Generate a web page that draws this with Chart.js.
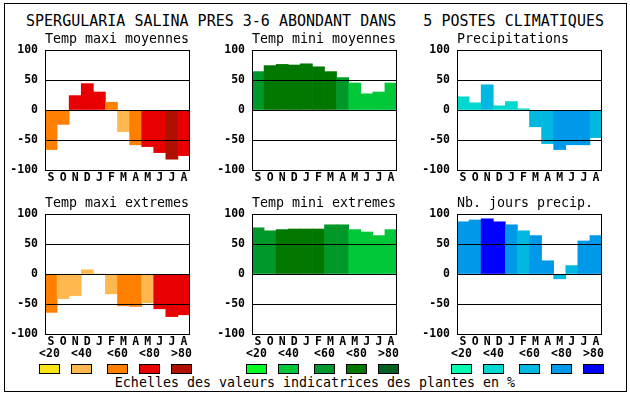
<!DOCTYPE html>
<html>
<head>
<meta charset="utf-8">
<script src="https://cdn.jsdelivr.net/npm/chart.js@4/dist/chart.umd.min.js"></script>
<style>
  html, body { margin: 0; padding: 0; background: #fff; }
  #wrap { position: relative; width: 630px; height: 394px; overflow: hidden; background: #fff; }
  #frame { position: absolute; left: 4px; top: 3px; width: 621px; height: 387px; border: 1px solid #000; box-sizing: content-box; }
  canvas { position: absolute; }
  .txt { position: absolute; font-family: "DejaVu Sans Mono", "Liberation Mono", monospace; color: #000; white-space: pre; line-height: 1; }
  .lbl { font-weight: bold; font-size: 11.5px; text-align: center; width: 30px; }
  .sw { position: absolute; width: 19px; height: 8px; border: 1px solid #000; }
</style>
</head>
<body>
<div id="wrap">
  <div id="frame"></div>
  <div class="txt" id="mainTitle" style="left:0;width:630px;text-align:center;top:14px;font-size:15px;"></div>
  <div class="txt" id="footer" style="left:0;width:630px;text-align:center;top:376px;font-size:13.3px;"></div>
</div>
<script>
// ---------- data ----------
const months = ['S','O','N','D','J','F','M','A','M','J','J','A'];
const yTicks = [-100, -50, 0, 50, 100];
const classLabels = ['<20', '<40', '<60', '<80', '>80'];

const mainTitle = 'SPERGULARIA SALINA PRES 3-6 ABONDANT DANS   5 POSTES CLIMATIQUES';
const footerText = 'Echelles des valeurs indicatrices des plantes en %';

const panelTitles = ['Temp maxi moyennes', 'Temp mini moyennes', 'Precipitations',
                     'Temp maxi extremes', 'Temp mini extremes', 'Nb. jours precip.'];

const tmaxMoy      = [-66, -24, 24, 44, 30, 13, -36, -58, -61, -71, -82, -76];
const tmaxMoyClass = [2, 2, 3, 3, 3, 2, 1, 2, 3, 3, 4, 3];

const tminMoy      = [64, 74, 76, 75, 77, 72, 64, 54, 45, 27, 30, 45];
const tminMoyClass = [2, 3, 3, 3, 3, 3, 3, 2, 1, 1, 1, 1];

const precip       = [22, 12, 42, 7, 14, 2, -28, -56, -66, -58, -58, -46];
const precipClass  = [1, 1, 2, 1, 1, 1, 2, 2, 3, 3, 3, 2];

const tmaxExt      = [-64, -41, -36, 7, 0, -33, -53, -54, -48, -58, -71, -68];
const tmaxExtClass = [2, 1, 1, 1, 1, 1, 2, 2, 1, 3, 3, 3];

const tminExt      = [77, 72, 74, 75, 75, 75, 82, 82, 74, 70, 64, 74];
const tminExtClass = [2, 2, 3, 3, 3, 3, 2, 2, 1, 1, 1, 1];

const nbJours      = [87, 90, 92, 87, 82, 72, 64, 22, -8, 14, 55, 64];
const nbJoursClass = [3, 3, 4, 4, 3, 2, 3, 3, 2, 2, 3, 3];

// ---------- styles ----------
const warmPalette  = ['#f8e418', '#ffb850', '#ff8000', '#e80000', '#b01000'];
const greenPalette = ['#00ff20', '#00c838', '#009828', '#007800', '#006020'];
const bluePalette  = ['#00ffb0', '#00d8d0', '#00b8e0', '#0098e8', '#0000ff'];

const MONO = '"DejaVu Sans Mono", "Liberation Mono", monospace';
const colLefts = [45, 252, 457];
const rowTops = [50, 214];
const plotW = 145, plotH = 120;
const AXW = 45, TOPPAD = 40, XH = 22, RPAD = 3;

const panels = [
  { values: tmaxMoy, cls: tmaxMoyClass, pal: warmPalette,  col: 0, row: 0, title: panelTitles[0] },
  { values: tminMoy, cls: tminMoyClass, pal: greenPalette, col: 1, row: 0, title: panelTitles[1] },
  { values: precip,  cls: precipClass,  pal: bluePalette,  col: 2, row: 0, title: panelTitles[2] },
  { values: tmaxExt, cls: tmaxExtClass, pal: warmPalette,  col: 0, row: 1, title: panelTitles[3] },
  { values: tminExt, cls: tminExtClass, pal: greenPalette, col: 1, row: 1, title: panelTitles[4] },
  { values: nbJours, cls: nbJoursClass, pal: bluePalette,  col: 2, row: 1, title: panelTitles[5] },
];

const panelDecor = {
  id: 'panelDecor',
  afterDraw(chart, args, opts) {
    const ctx = chart.ctx, a = chart.chartArea;
    ctx.save();
    ctx.strokeStyle = '#000';
    ctx.lineWidth = 1;
    ctx.strokeRect(Math.round(a.left) + 0.5, Math.round(a.top) + 0.5,
                   Math.round(a.right - a.left) - 1, Math.round(a.bottom - a.top));
    ctx.fillStyle = '#000';
    ctx.font = '13.3px ' + MONO;
    ctx.textAlign = 'left';
    ctx.textBaseline = 'alphabetic';
    ctx.fillText(opts.text, a.left, a.top - 7);
    ctx.restore();
  }
};

const wrap = document.getElementById('wrap');
document.getElementById('mainTitle').textContent = mainTitle;
document.getElementById('footer').textContent = footerText;

panels.forEach(p => {
  const cv = document.createElement('canvas');
  const left = colLefts[p.col] - AXW, top = rowTops[p.row] - TOPPAD;
  const w = AXW + plotW + RPAD, h = TOPPAD + plotH + XH;
  cv.width = w; cv.height = h;
  cv.style.left = left + 'px'; cv.style.top = top + 'px';
  cv.style.width = w + 'px'; cv.style.height = h + 'px';
  wrap.appendChild(cv);

  new Chart(cv, {
    type: 'bar',
    data: {
      labels: months,
      datasets: [{
        data: p.values,
        backgroundColor: p.cls.map(c => p.pal[c]),
        borderWidth: 0,
        barPercentage: 1,
        categoryPercentage: 1,
      }]
    },
    plugins: [panelDecor],
    options: {
      responsive: false,
      animation: false,
      devicePixelRatio: 1,
      layout: { padding: { top: TOPPAD, right: RPAD, left: 0, bottom: 0 } },
      plugins: {
        legend: { display: false },
        tooltip: { enabled: false },
        title: { display: false },
        panelDecor: { text: p.title }
      },
      scales: {
        x: {
          grid: { display: false, drawTicks: false },
          border: { display: false },
          ticks: { color: '#000', font: { family: MONO, size: 11.5, weight: 'bold' },
                   padding: 1, maxRotation: 0, autoSkip: false },
          afterFit(s) { s.height = XH; }
        },
        y: {
          min: -100, max: 100,
          afterBuildTicks(s) { s.ticks = yTicks.map(v => ({ value: v })); },
          grid: { color: '#000', lineWidth: 1, drawTicks: false, z: 1 },
          border: { display: false },
          ticks: { color: '#000', font: { family: MONO, size: 11.5, weight: 'bold' }, padding: 7 },
          afterFit(s) { s.width = AXW; }
        }
      }
    }
  });
});

// legends
const swOffsets = [-6, 26, 62, 94, 126];
const palettes = [warmPalette, greenPalette, bluePalette];
palettes.forEach((pal, ci) => {
  pal.forEach((col, k) => {
    const x = colLefts[ci] + swOffsets[k];
    const sw = document.createElement('div');
    sw.className = 'sw';
    sw.style.left = x + 'px';
    sw.style.top = '364px';
    sw.style.background = col;
    wrap.appendChild(sw);
    const lb = document.createElement('div');
    lb.className = 'txt lbl';
    lb.style.left = (x + 10.5 - 15) + 'px';
    lb.style.top = '348px';
    lb.textContent = classLabels[k];
    wrap.appendChild(lb);
  });
});
</script>
</body>
</html>
